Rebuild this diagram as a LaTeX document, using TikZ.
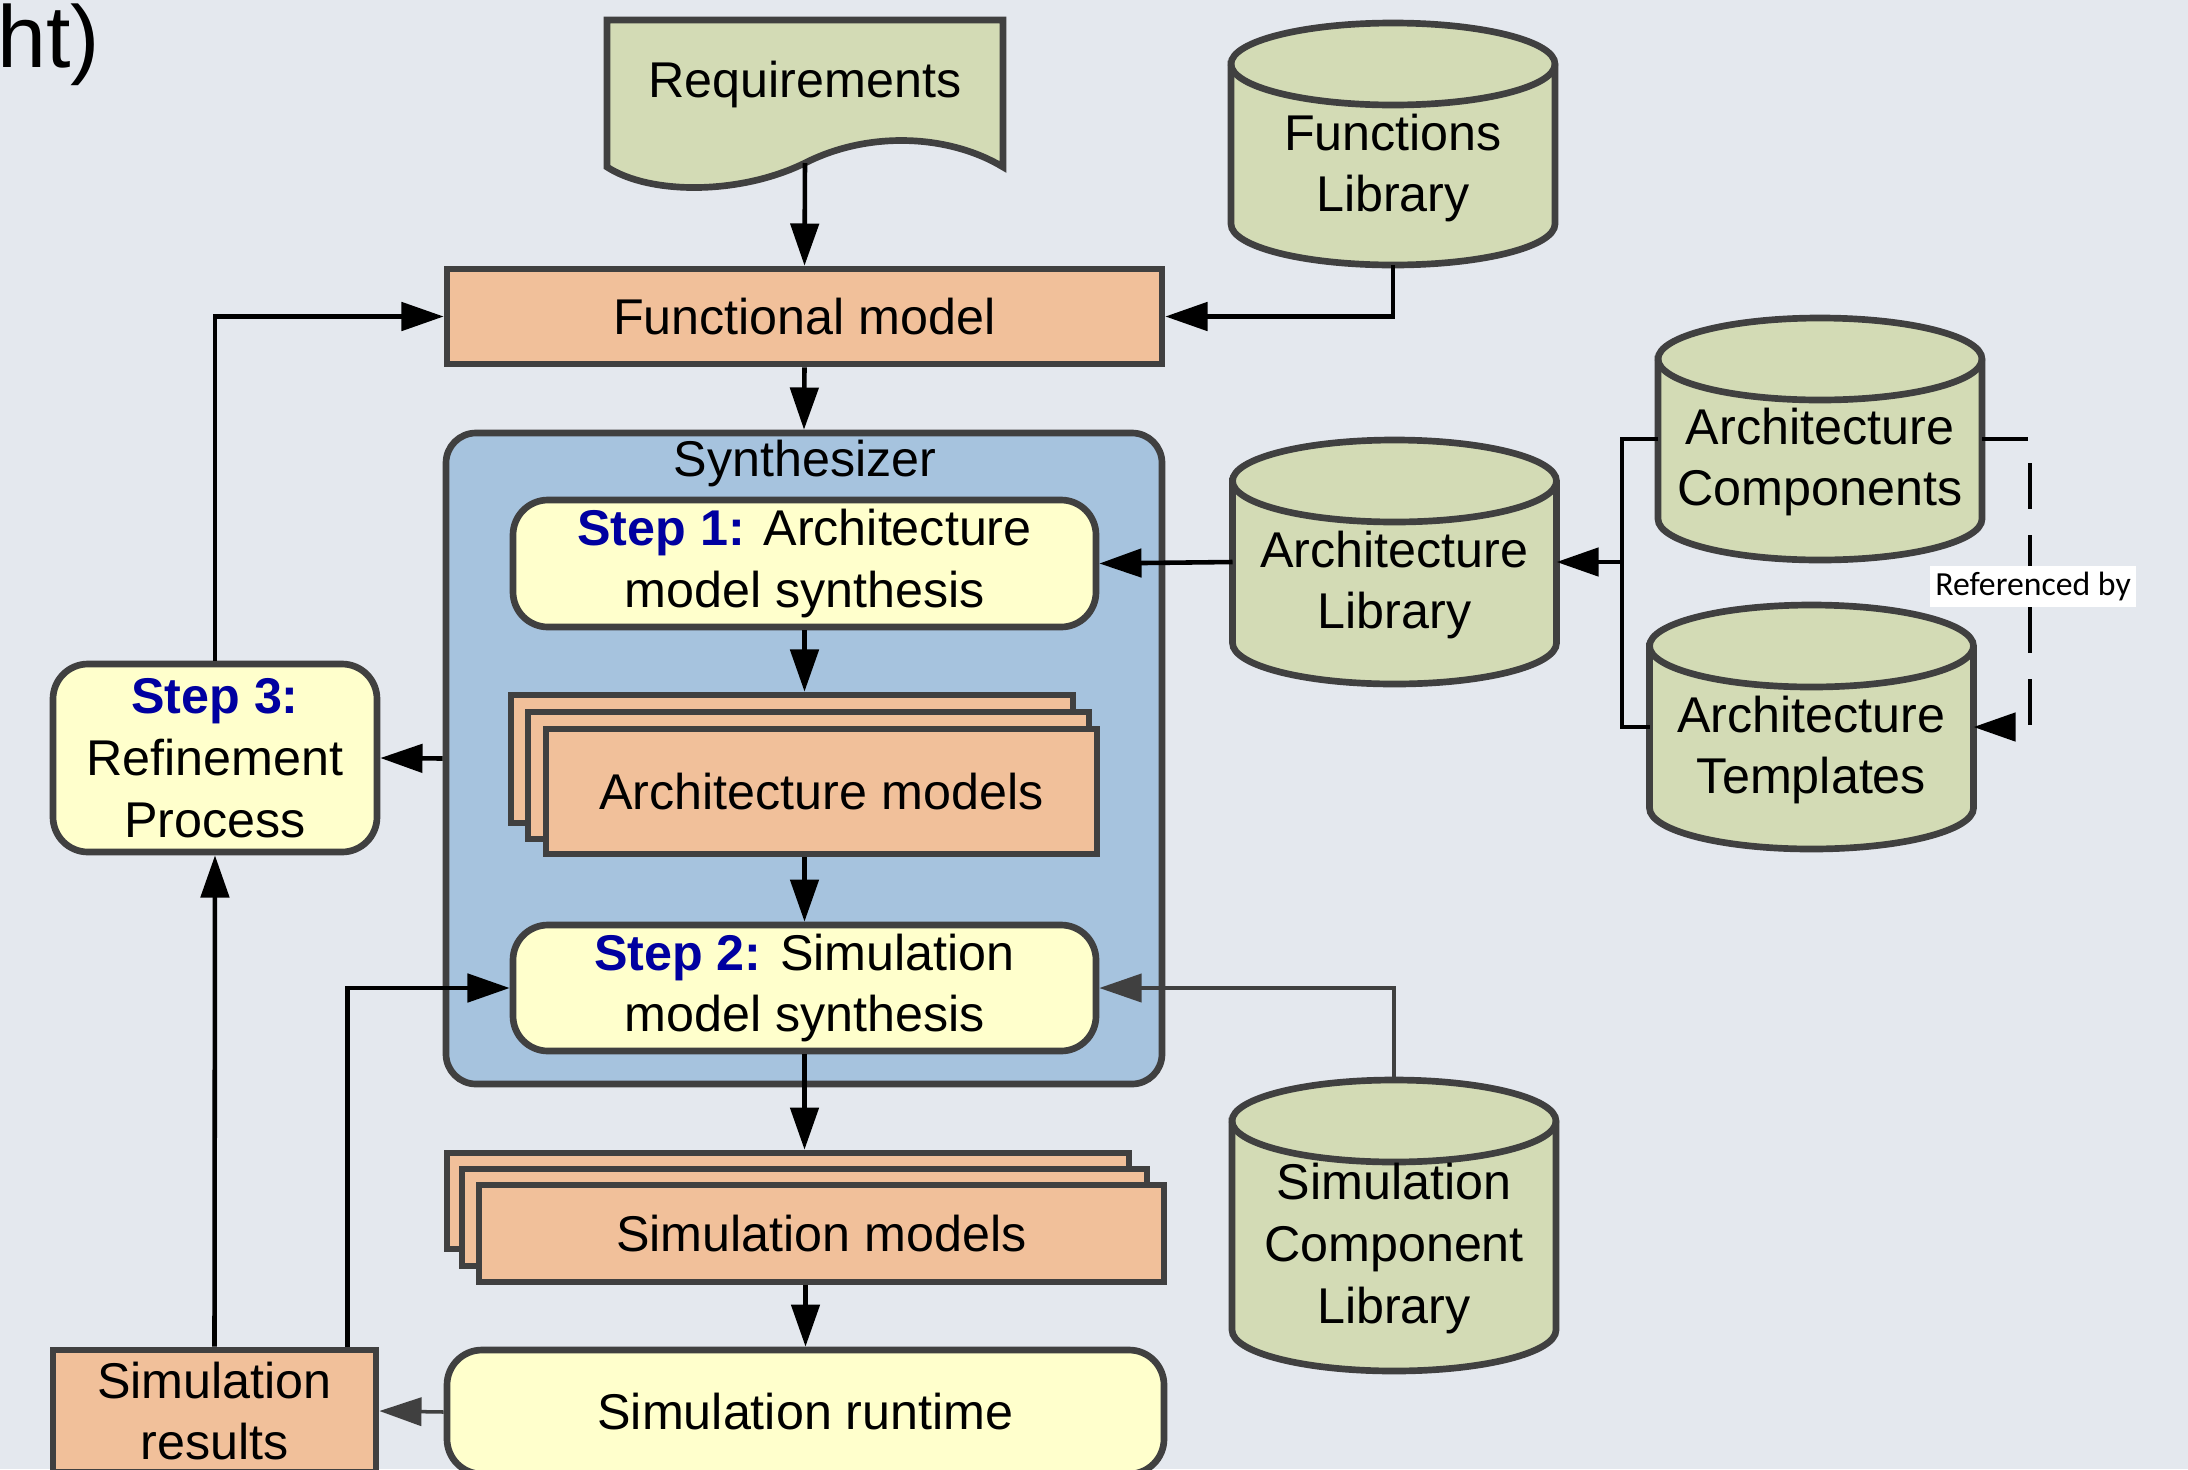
\documentclass[tikz,border=0pt]{standalone}
\usepackage{fontspec}
\setmainfont{Liberation Sans}
\newfontfamily\notefont{Carlito}
\usetikzlibrary{arrows.meta}

\definecolor{canvas}{RGB}{228,232,238}
\definecolor{edgegray}{RGB}{64,64,64}
\definecolor{sandfill}{RGB}{241,192,154}
\definecolor{sagefill}{RGB}{211,219,181}
\definecolor{creamfill}{RGB}{255,255,204}
\definecolor{synthblue}{RGB}{166,195,222}
\definecolor{stepblue}{RGB}{0,0,160}

\newcommand{\steplabel}[1]{{\color{stepblue}\bfseries #1}}
% drum outline round a library frame node
\newcommand{\librarydrum}[1]{%
	\draw[outline, fill = sagefill] ([yshift = -0.41cm]#1.north west) -- ([yshift = 0.41cm]#1.south west)
		arc[start angle = 180, end angle = 360, x radius = 1.62cm, y radius = 0.41cm]
		-- ([yshift = -0.41cm]#1.north east)
		arc[start angle = 0, end angle = 180, x radius = 1.62cm, y radius = 0.41cm] -- cycle;
	\draw[outline] ([yshift = -0.41cm]#1.north west)
		arc[start angle = 180, end angle = 360, x radius = 1.62cm, y radius = 0.41cm];}

\begin{document}
\begin{tikzpicture}[font = \fontsize{14.3}{17.6}\selectfont]
	% Styles for the boxes, the libraries and the arrows
	\tikzset{outline/.style = {draw = edgegray, line width = 1.9pt}}
	\tikzset{block/.style = {outline, align = center, inner sep = 0pt}}
	\tikzset{model box/.style = {block, fill = sandfill}}
	\tikzset{process box/.style = {block, fill = creamfill, rounded corners = 0.35cm}}
	\tikzset{library/.style = {minimum width = 3.24cm, inner sep = 0pt, outer sep = 0pt}}
	\tikzset{flow/.style = {-{Triangle[length = 12pt, width = 8pt]}, line width = 1.3pt}}
	\tikzset{soft flow/.style = {flow, draw = edgegray, line width = 1pt}}
	\tikzset{link/.style = {line width = 1.2pt}}

	% Canvas
	\fill[canvas] (0, 0) rectangle (21.88, -14.69);
	\useasboundingbox (0, 0) rectangle (21.88, -14.69);

	\node[anchor = base west, font = \fontsize{25}{30}\selectfont, inner sep = 0pt] (cuttitle) at (-0.03, -0.67) {ht)};

	% Requirements document
	\draw[outline, fill = sagefill] (6.07, -0.20) -- (10.03, -0.20) -- (10.03, -1.67)
		.. controls (9.50, -1.35) and (8.70, -1.30) .. (8.05, -1.63)
		.. controls (7.40, -1.95) and (6.50, -1.95) .. (6.07, -1.67) -- cycle;
	\node (requirements) at (8.05, -0.85) {Requirements};
	\coordinate (reqtip) at (8.05, -1.63);

	% Functional model and the synthesizer
	\node[model box, minimum width = 7.15cm, minimum height = 0.95cm] (funcmodel) at (8.045, -3.165) {Functional model};
	\node[block, fill = synthblue, rounded corners = 0.3cm, minimum width = 7.16cm, minimum height = 6.51cm] (synth) at (8.04, -7.585) {};
	\node (synthtitle) at (8.05, -4.63) {Synthesizer};

	\node[process box, minimum width = 5.83cm, minimum height = 1.27cm] (step1) at (8.045, -5.635) {\steplabel{Step 1:} Architecture\\model synthesis};

	\node[model box, minimum width = 5.62cm, minimum height = 1.28cm] (archback) at (7.92, -7.59) {};
	\node[model box, minimum width = 5.61cm, minimum height = 1.27cm] (archmid) at (8.085, -7.755) {};
	\node[model box, minimum width = 5.51cm, minimum height = 1.25cm] (archfront) at (8.215, -7.915) {Architecture models};

	\node[process box, minimum width = 5.83cm, minimum height = 1.26cm] (step2) at (8.045, -9.88) {\steplabel{Step 2:} Simulation\\model synthesis};

	% Simulation side
	\node[model box, minimum width = 6.82cm, minimum height = 0.96cm] (simback) at (7.88, -12.01) {};
	\node[model box, minimum width = 6.85cm, minimum height = 0.97cm] (simmid) at (8.045, -12.175) {};
	\node[model box, minimum width = 6.85cm, minimum height = 0.97cm] (simfront) at (8.215, -12.335) {Simulation models};

	\node[process box, minimum width = 7.17cm, minimum height = 1.24cm] (runtime) at (8.055, -14.12) {Simulation runtime};
	\node[model box, minimum width = 3.23cm, minimum height = 1.22cm] (results) at (2.145, -14.11) {Simulation\\results};
	\node[process box, minimum width = 3.24cm, minimum height = 1.88cm] (step3) at (2.15, -7.58) {\steplabel{Step 3:}\\Refinement\\Process};

	% Libraries
	\node[library, minimum height = 2.42cm] (funclib) at (13.93, -1.44) {};
	\node[library, minimum height = 2.44cm] (archlib) at (13.945, -5.62) {};
	\node[library, minimum height = 2.42cm] (archcomp) at (18.20, -4.39) {};
	\node[library, minimum height = 2.44cm] (archtempl) at (18.115, -7.27) {};
	\node[library, minimum height = 2.91cm] (simlib) at (13.94, -12.255) {};
	\foreach \lib in {funclib, archlib, archcomp, archtempl, simlib}
		\librarydrum{\lib};
	\node[align = center] (funclibtext) at ([yshift = -0.24cm]funclib.center) {Functions\\Library};
	\node[align = center] (archlibtext) at ([yshift = -0.23cm]archlib.center) {Architecture\\Library};
	\node[align = center] (archcomptext) at ([yshift = -0.23cm]archcomp.center) {Architecture\\Components};
	\node[align = center] (archtempltext) at ([yshift = -0.23cm]archtempl.center) {Architecture\\Templates};
	\node[align = center] (simlibtext) at ([yshift = -0.23cm]simlib.center) {Simulation\\Component\\Library};

	% Draw the arrows
	\draw[flow] (reqtip) -- (funcmodel.north);
	\draw[flow] (funclib.south) |- (funcmodel.east);
	\draw[flow] (funcmodel.south) -- (synth.north);
	\draw[flow] (step1.south) -- (step1.south |- archback.north);
	\draw[flow] (step2.north |- archfront.south) -- (step2.north);
	\draw[flow] (step2.south) -- (step2.south |- simback.north);
	\draw[flow] (runtime.north |- simfront.south) -- (runtime.north);
	\draw[soft flow] (runtime.west) -- (results.east);
	\draw[flow] (synth.west) -- (step3.east);
	\draw[flow] (results.north) -- (step3.south);
	\draw[flow] (step3.north) |- (funcmodel.west);
	\coordinate (feedback) at ([xshift = -0.32cm]results.north east);
	\draw[flow] (feedback) |- (step2.west);
	\draw[flow] (archlib.west) -- (step1.east);
	\draw[soft flow] (simlib.north) |- (step2.east);

	% Architecture library inputs
	\coordinate (libjoin) at (16.22, -5.62);
	\draw[link] (archcomp.west) -| (libjoin) |- (archtempl.west);
	\draw[flow] (libjoin) -- (archlib.east);
	\draw[flow, dash pattern = on 13pt off 7.5pt] (archcomp.east) -- ++(0.48, 0) |- (archtempl.east);
	\node[font = \notefont\fontsize{9.6}{11}\selectfont, fill = white, inner sep = 1.6pt] (refnote) at (20.33, -5.865) {Referenced by};

\end{tikzpicture}
\end{document}
